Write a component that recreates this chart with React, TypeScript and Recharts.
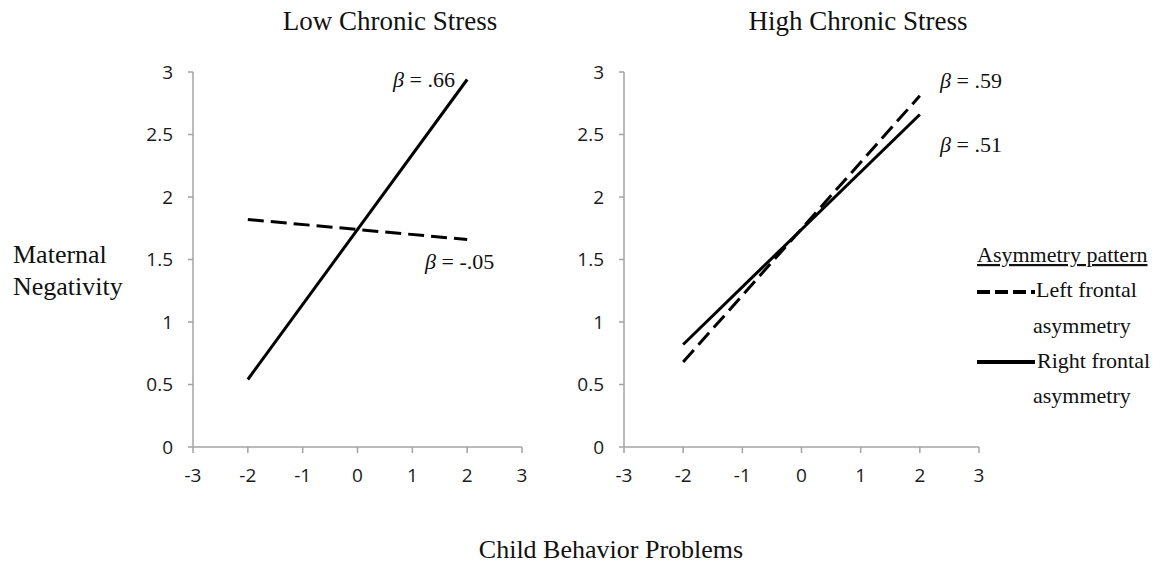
import React from "react";
import { LineChart, Line, XAxis, YAxis } from "recharts";

// ---- data ----
const childBehavior = [-2, 2];
const lowLeftFrontal = [1.82, 1.66];
const lowRightFrontal = [0.54, 2.94];
const highLeftFrontal = [0.68, 2.81];
const highRightFrontal = [0.82, 2.66];

const xTicks = [-3, -2, -1, 0, 1, 2, 3];
const yTicks = [0, 0.5, 1, 1.5, 2, 2.5, 3];

const panelTitles = ["Low Chronic Stress", "High Chronic Stress"];
const betaLabels = [".66", "-.05", ".59", ".51"];
const legendTitle = "Asymmetry pattern";
const seriesNames = ["Left frontal asymmetry", "Right frontal asymmetry"];

const lowData = childBehavior.map((x, i) => ({ x, left: lowLeftFrontal[i], right: lowRightFrontal[i] }));
const highData = childBehavior.map((x, i) => ({ x, left: highLeftFrontal[i], right: highRightFrontal[i] }));

const SERIF = "'Liberation Serif', 'Times New Roman', serif";
const SANS = "'Open Sans', 'Liberation Sans', sans-serif";
const AXIS = "#a3a3a3";
const TICK_FS = 19;

function XTick(props: any) {
  const { x, y, payload } = props;
  return (
    <text x={x} y={y} dy="0.71em" textAnchor="middle" fontFamily={SANS} fontSize={TICK_FS} fill="#1a1a1a">
      {String(payload.value)}
    </text>
  );
}

function YTick(props: any) {
  const { x, y, payload } = props;
  return (
    <text x={x} y={y} dy="0.355em" textAnchor="end" fontFamily={SANS} fontSize={TICK_FS} fill="#1a1a1a">
      {String(payload.value)}
    </text>
  );
}

function Panel({ data, width, rightMargin }: { data: any[]; width: number; rightMargin: number }) {
  return (
    <LineChart
      width={width}
      height={440}
      data={data}
      margin={{ top: 22, right: rightMargin, left: 0, bottom: 13 }}
    >
      <XAxis
        dataKey="x"
        type="number"
        domain={[-3, 3]}
        ticks={xTicks}
        interval={0}
        height={30}
        tickSize={6}
        tickMargin={16}
        axisLine={{ stroke: AXIS, strokeWidth: 1.5 }}
        tickLine={{ stroke: AXIS, strokeWidth: 1.5 }}
        tick={<XTick />}
      />
      <YAxis
        type="number"
        domain={[0, 3]}
        ticks={yTicks}
        interval={0}
        width={53}
        tickSize={5}
        tickMargin={15}
        axisLine={{ stroke: AXIS, strokeWidth: 1.5 }}
        tickLine={{ stroke: AXIS, strokeWidth: 1.5 }}
        tick={<YTick />}
      />
      <Line
        type="linear"
        dataKey="left"
        stroke="#000"
        strokeWidth={3}
        strokeDasharray="16 7"
        dot={false}
        isAnimationActive={false}
      />
      <Line
        type="linear"
        dataKey="right"
        stroke="#000"
        strokeWidth={3}
        dot={false}
        isAnimationActive={false}
      />
    </LineChart>
  );
}

function Beta({ x, y, v }: { x: number; y: number; v: string }) {
  return (
    <text x={x} y={y} fontFamily={SERIF} fontSize={22} fill="#111">
      <tspan fontStyle="italic">β</tspan>
      <tspan> = {v}</tspan>
    </text>
  );
}

export default function App() {
  const [leftName, rightName] = seriesNames;
  const lw = leftName.split(" ");
  const rw = rightName.split(" ");
  return (
    <div style={{ position: "absolute", left: 0, top: 0, width: 1165, height: 564, background: "#fff", overflow: "hidden" }}>
      <div style={{ position: "absolute", left: 140, top: 50 }}>
        <Panel data={lowData} width={400} rightMargin={18} />
      </div>
      <div style={{ position: "absolute", left: 571, top: 50 }}>
        <Panel data={highData} width={430} rightMargin={22} />
      </div>
      <svg width={1165} height={564} style={{ position: "absolute", left: 0, top: 0, pointerEvents: "none" }}>
        <text x={390} y={30} textAnchor="middle" fontFamily={SERIF} fontSize={27} fill="#111">{panelTitles[0]}</text>
        <text x={858} y={30} textAnchor="middle" fontFamily={SERIF} fontSize={27} fill="#111">{panelTitles[1]}</text>
        <text x={13} y={263} fontFamily={SERIF} fontSize={26} fill="#111">Maternal</text>
        <text x={13} y={295} fontFamily={SERIF} fontSize={26} fill="#111">Negativity</text>
        <text x={611} y={558} textAnchor="middle" fontFamily={SERIF} fontSize={26} fill="#111">Child Behavior Problems</text>

        <Beta x={393} y={87} v={betaLabels[0]} />
        <Beta x={425} y={269} v={betaLabels[1]} />
        <Beta x={940} y={88} v={betaLabels[2]} />
        <Beta x={940} y={152} v={betaLabels[3]} />

        <text x={977} y={262} fontFamily={SERIF} fontSize={22} fill="#111" textDecoration="underline">{legendTitle}</text>
        <line x1={977} x2={1035} y1={292} y2={292} stroke="#000" strokeWidth={4} strokeDasharray="13 5" />
        <text x={1036} y={297} fontFamily={SERIF} fontSize={22} fill="#111">{lw.slice(0, 2).join(" ")}</text>
        <text x={1033} y={333} fontFamily={SERIF} fontSize={22} fill="#111">{lw.slice(2).join(" ")}</text>
        <line x1={977} x2={1035} y1={362} y2={362} stroke="#000" strokeWidth={4} />
        <text x={1037} y={368} fontFamily={SERIF} fontSize={22} fill="#111">{rw.slice(0, 2).join(" ")}</text>
        <text x={1033} y={403} fontFamily={SERIF} fontSize={22} fill="#111">{rw.slice(2).join(" ")}</text>
      </svg>
    </div>
  );
}
